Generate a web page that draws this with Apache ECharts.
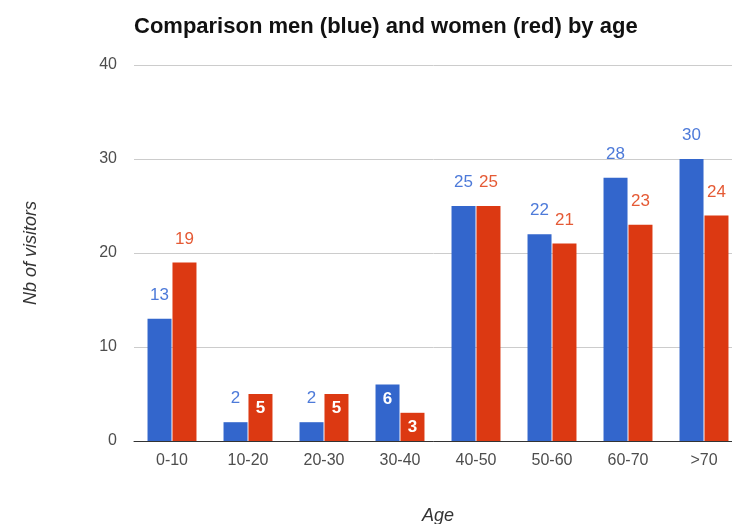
<!DOCTYPE html>
<html><head><meta charset="utf-8">
<script src="https://cdn.jsdelivr.net/npm/echarts@6/dist/echarts.min.js"></script>
<style>html,body{margin:0;padding:0;background:#fff}#c{width:732px;height:524px}</style>
</head><body><div id="c"></div>
<script>
const categories = ['0-10','10-20','20-30','30-40','40-50','50-60','60-70','>70'];
const men = [13, 2, 2, 6, 25, 22, 28, 30];
const women = [19, 5, 5, 3, 25, 21, 23, 24];
const yTicks = [0, 10, 20, 30, 40];

const FONT = '"Liberation Sans", Arial, sans-serif';
const BLUE = '#3366cc', RED = '#dc3912';
function items(vals, labelColor) {
  return vals.map(v => {
    const inside = v >= 3 && v < 10;
    return {
      value: v,
      label: inside
        ? {show: true, position: 'insideTop', distance: 6, color: '#fff', fontWeight: 'bold', fontSize: 17, fontFamily: FONT}
        : {show: true, position: 'top', distance: 15, color: labelColor, fontSize: 17, fontFamily: FONT}
    };
  });
}
const chart = echarts.init(document.getElementById('c'));
chart.setOption({
  animation: false,
  title: {text: 'Comparison men (blue) and women (red) by age', left: 129, top: 11,
    textStyle: {fontSize: 22, fontWeight: 'bold', color: '#111', fontFamily: FONT}},
  grid: {left: 134, right: -10, top: 65, bottom: 83, outerBoundsMode: 'none', containLabel: false},
  xAxis: {type: 'category', data: categories, name: 'Age', nameLocation: 'middle', nameGap: 66,
    nameTextStyle: {fontStyle: 'italic', fontSize: 18, color: '#333', fontFamily: FONT},
    axisLine: {lineStyle: {color: '#333'}}, axisTick: {show: false},
    axisLabel: {color: '#4d4d4d', fontSize: 16, margin: 12, fontFamily: FONT}},
  yAxis: {type: 'value', min: yTicks[0], max: yTicks[yTicks.length-1], interval: 10,
    name: 'Nb of visitors', nameLocation: 'middle', nameGap: 94, nameRotate: 90,
    nameTextStyle: {fontStyle: 'italic', fontSize: 18, color: '#333', fontFamily: FONT},
    axisLine: {show: false}, axisTick: {show: false},
    axisLabel: {color: '#4d4d4d', fontSize: 16, margin: 17, fontFamily: FONT},
    splitLine: {lineStyle: {color: '#cccccc'}}},
  series: [
    {name: 'men', type: 'bar', data: items(men, '#4d7ad9'), itemStyle: {color: BLUE}, barWidth: 24, barGap: '4%'},
    {name: 'women', type: 'bar', data: items(women, '#e55a35'), itemStyle: {color: RED}, barWidth: 24, barGap: '4%'}
  ]
});
</script></body></html>
